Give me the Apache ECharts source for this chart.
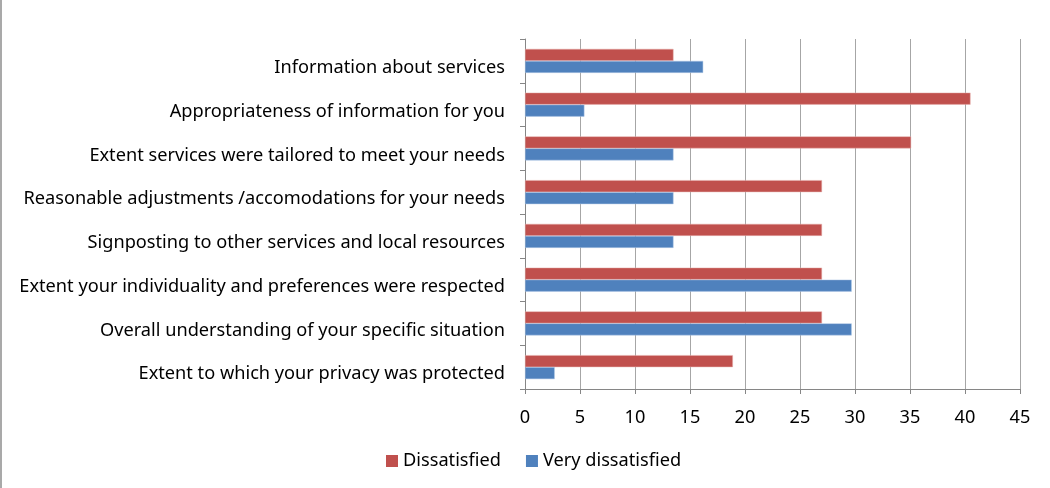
<!DOCTYPE html>
<html><head><meta charset="utf-8">
<script src="https://cdn.jsdelivr.net/npm/echarts@6/dist/echarts.min.js"></script>
<style>html,body{margin:0;padding:0;background:#fff}#c{width:1050px;height:488px}</style>
</head><body><div id="c"></div>
<script>
const categories = [
  "Information about services",
  "Appropriateness of information for you",
  "Extent services were tailored to meet your needs",
  "Reasonable adjustments /accomodations for your needs",
  "Signposting to other services and local resources",
  "Extent your individuality and preferences were respected",
  "Overall understanding of your specific situation",
  "Extent to which your privacy was protected"
];
const dissatisfied = [13.5, 40.5, 35.1, 27.0, 27.0, 27.0, 27.0, 18.9];
const veryDissatisfied = [16.2, 5.4, 13.5, 13.5, 13.5, 29.7, 29.7, 2.7];
const seriesNames = ["Dissatisfied", "Very dissatisfied"];

const FONT = "Noto Sans";
const FS = 18.2;
const chart = echarts.init(document.getElementById('c'));
chart.setOption({
  animation: false,
  textStyle: { fontFamily: FONT },
  graphic: [{ type: 'line', shape: { x1: 1, y1: 0, x2: 1, y2: 488 }, style: { stroke: '#8c8c8c', lineWidth: 1.5 } }],
  legend: {
    data: seriesNames, bottom: 13, left: 381, itemWidth: 12, itemHeight: 12, itemGap: 25,
    icon: 'rect', itemStyle: { borderWidth: 0 },
    textStyle: { fontSize: FS, color: '#000', fontFamily: FONT }
  },
  grid: { left: 525, right: 30, top: 39, bottom: 99 },
  xAxis: {
    type: 'value', min: 0, max: 45, interval: 5,
    axisLine: { show: true, lineStyle: { color: '#868686' } },
    axisTick: { show: true, length: 5, lineStyle: { color: '#868686' } },
    splitLine: { show: true, lineStyle: { color: '#a6a6a6' } },
    axisLabel: { fontSize: FS, color: '#000', margin: 20, fontFamily: FONT }
  },
  yAxis: {
    type: 'category', data: categories, inverse: true,
    axisLine: { show: true, lineStyle: { color: '#868686' } },
    axisTick: { show: true, length: 5, lineStyle: { color: '#868686' } },
    axisLabel: { fontSize: FS, color: '#000', margin: 20, fontFamily: FONT, verticalAlign: 'top', lineHeight: 14 }
  },
  series: [
    { name: seriesNames[0], type: 'bar', data: dissatisfied, barWidth: 12, barGap: '0%',
      itemStyle: { color: '#C0504D', borderColor: '#e6b0ae', borderWidth: 0.5 } },
    { name: seriesNames[1], type: 'bar', data: veryDissatisfied, barWidth: 12, barGap: '0%',
      itemStyle: { color: '#4F81BD', borderColor: '#b0c8e6', borderWidth: 0.5 } }
  ]
});
</script></body></html>
